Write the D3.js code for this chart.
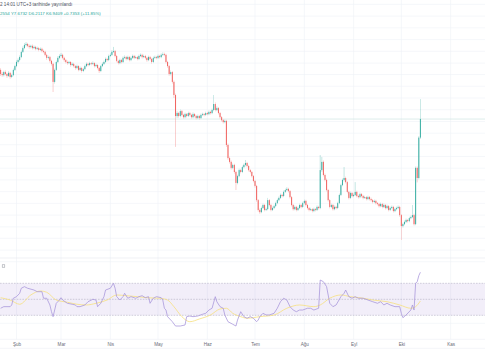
<!DOCTYPE html>
<html><head><meta charset="utf-8">
<script src="https://cdn.jsdelivr.net/npm/d3@7"></script>
<style>html,body{margin:0;padding:0;background:#fff;overflow:hidden}svg{display:block}</style>
</head><body>
<svg id="c" width="485" height="360"></svg>
<script>
// ---------- DATA ----------
const startDay = [2022, 0, 21];       // first daily candle
const firstOpen = 9.25;
const close = [
8.74,8.59,8.55,8.66,8.59,8.52,8.63,8.48,8.55,8.74,
8.88,9.03,9.10,9.21,9.40,9.54,9.65,9.69,9.62,9.58,
9.62,9.54,9.58,9.51,9.54,9.47,9.51,9.43,9.40,9.29,
9.18,9.21,9.07,8.96,8.30,8.74,9.03,9.18,9.25,9.29,
9.18,9.10,9.03,8.99,9.03,8.92,8.96,8.88,8.81,8.88,
8.74,8.81,8.70,8.77,8.88,8.96,8.92,8.99,8.96,8.99,
8.88,8.92,8.81,8.70,8.88,8.96,9.03,9.14,9.10,9.25,
9.29,9.40,9.43,9.25,9.07,8.99,9.10,9.03,9.18,9.21,
9.14,9.21,9.10,9.18,9.25,9.18,9.21,9.14,9.25,9.29,
9.21,9.25,9.18,9.10,9.21,9.14,9.03,9.18,9.21,9.18,
9.25,9.21,9.29,9.32,9.29,9.03,8.88,8.59,8.66,8.30,
7.82,7.05,7.16,7.05,7.23,7.09,7.01,7.12,7.05,7.16,
7.09,7.01,7.12,7.05,6.98,7.05,6.98,7.09,7.12,7.09,
7.16,7.12,7.20,7.16,7.27,7.49,7.27,7.34,7.16,7.01,
6.90,6.83,6.87,5.99,5.51,5.37,5.15,5.26,5.00,4.60,
4.85,5.07,5.00,5.18,5.26,5.33,5.22,5.07,5.00,4.85,
4.67,4.49,3.97,3.61,3.53,3.68,3.79,3.61,3.64,3.97,
3.79,3.61,3.68,3.75,3.86,3.97,4.05,4.16,4.12,4.27,
4.34,4.38,4.30,4.08,3.79,3.64,3.72,3.61,3.68,3.79,
3.72,3.86,3.94,3.79,3.68,3.61,3.64,3.57,3.64,3.61,
3.72,3.68,5.07,5.37,4.89,4.71,4.34,3.97,3.72,3.79,
3.64,3.72,3.68,3.86,4.16,4.52,4.71,4.78,4.63,4.27,
4.05,4.23,4.12,4.16,4.27,4.12,4.08,4.19,4.12,4.05,
4.08,4.01,4.08,4.01,3.97,3.90,3.94,3.86,3.83,3.75,
3.83,3.72,3.79,3.68,3.75,3.61,3.68,3.72,3.57,3.64,
3.68,3.72,3.42,3.02,3.09,3.17,3.24,3.20,3.31,3.35,
3.42,3.09,5.15,4.78,6.26,6.94];
const high = [
9.31,8.80,8.66,8.71,8.72,8.63,8.69,8.67,8.60,8.79,
8.93,9.09,9.16,9.27,9.45,9.60,9.72,9.76,9.73,9.67,
9.66,9.67,9.63,9.62,9.59,9.58,9.56,9.55,9.48,9.44,
9.33,9.26,9.25,9.11,9.00,8.79,9.08,9.24,9.31,9.36,
9.33,9.22,9.14,9.08,9.07,9.06,9.01,9.00,8.92,8.93,
8.91,8.86,8.85,8.82,8.93,9.01,9.00,9.04,9.03,9.05,
9.02,8.97,8.95,8.84,8.92,9.01,9.08,9.19,9.18,9.30,
9.35,9.46,9.58,9.47,9.29,9.11,9.15,9.14,9.23,9.27,
9.25,9.26,9.25,9.23,9.30,9.29,9.26,9.25,9.30,9.34,
9.33,9.30,9.29,9.22,9.26,9.25,9.18,9.23,9.26,9.25,
9.30,9.29,9.34,9.38,9.37,9.33,9.07,8.92,8.72,8.70,
8.35,7.87,7.22,7.20,7.29,7.27,7.13,7.17,7.16,7.21,
7.20,7.13,7.18,7.16,7.09,7.10,7.09,7.14,7.17,7.16,
7.21,7.20,7.25,7.24,7.32,7.82,7.55,7.40,7.38,7.20,
7.05,6.94,6.92,6.91,6.04,5.56,5.42,5.31,5.30,5.04,
4.90,5.12,5.11,5.23,5.31,5.44,5.37,5.26,5.11,5.04,
4.89,4.71,4.53,4.01,3.66,3.73,3.84,3.83,3.69,4.05,
4.01,3.83,3.73,3.80,3.91,4.02,4.10,4.21,4.20,4.32,
4.39,4.44,4.42,4.34,4.12,3.83,3.77,3.76,3.73,3.84,
3.83,3.91,3.99,3.98,3.83,3.72,3.69,3.68,3.69,3.68,
3.77,3.76,5.62,5.55,5.42,4.94,4.76,4.38,4.01,3.84,
3.83,3.77,3.76,3.91,4.21,4.57,4.76,5.18,4.83,4.67,
4.31,4.28,4.27,4.21,4.63,4.31,4.17,4.24,4.23,4.16,
4.13,4.12,4.13,4.12,4.06,4.01,3.99,3.98,3.90,3.87,
3.88,3.87,3.84,3.83,3.80,3.79,3.73,3.77,3.76,3.69,
3.73,3.77,3.76,3.46,3.14,3.22,3.29,3.28,3.36,3.40,
3.79,3.47,5.20,5.20,6.31,7.67];
const low = [
8.69,8.52,8.49,8.50,8.54,8.45,8.48,8.42,8.44,8.51,
8.70,8.84,8.98,9.05,9.17,9.36,9.50,9.60,9.57,9.52,
9.53,9.49,9.50,9.46,9.47,9.42,9.43,9.38,9.35,9.24,
9.11,9.13,9.01,8.90,7.93,8.24,8.70,8.99,9.13,9.20,
9.13,9.04,8.98,8.93,8.95,8.86,8.88,8.83,8.75,8.77,
8.69,8.70,8.64,8.66,8.73,8.84,8.87,8.88,8.91,8.92,
8.83,8.84,8.76,8.63,8.66,8.84,8.92,8.99,9.05,9.06,
9.21,9.25,9.36,9.20,9.02,8.94,8.95,8.98,8.99,9.14,
9.09,9.10,9.05,9.06,9.14,9.13,9.14,9.09,9.10,9.21,
9.16,9.17,9.13,9.04,9.06,9.09,8.97,8.99,9.14,9.13,
9.14,9.16,9.17,9.25,9.24,8.98,8.82,8.53,8.54,8.24,
7.71,5.92,6.98,6.99,7.00,7.04,6.96,6.97,7.00,7.01,
7.04,6.96,6.97,7.00,6.93,6.94,6.92,6.94,7.05,7.04,
7.05,7.08,7.08,7.11,7.12,7.23,7.22,7.23,7.11,6.96,
6.85,6.78,6.79,5.92,5.45,5.31,5.09,5.10,4.94,4.34,
4.55,4.81,4.95,4.96,5.14,5.21,5.17,5.02,4.95,4.80,
4.62,4.43,3.91,3.55,3.47,3.49,3.64,3.56,3.57,3.60,
3.74,3.56,3.57,3.64,3.71,3.82,3.93,4.01,4.07,4.08,
4.23,4.30,4.25,4.03,3.74,3.59,3.60,3.56,3.57,3.64,
3.67,3.68,3.82,3.74,3.63,3.56,3.57,3.52,3.53,3.56,
3.57,3.63,3.64,5.01,4.84,4.66,4.29,3.92,3.67,3.68,
3.59,3.60,3.63,3.64,3.82,4.12,4.48,4.66,4.58,4.22,
4.00,4.01,4.07,4.08,4.12,4.07,4.03,4.04,4.07,4.00,
4.01,3.96,3.97,3.96,3.92,3.85,3.86,3.81,3.78,3.70,
3.71,3.67,3.68,3.63,3.64,3.56,3.57,3.64,3.52,3.53,
3.60,3.64,3.36,2.51,2.97,3.05,3.13,3.15,3.16,3.27,
3.31,3.04,3.05,4.62,4.73,6.21];

// RSI (day offset from first candle, value)
const rsiDay = [1,3,7,8,9,11,13,14,16,18,22,24,27,28,30,32,33,34,35,36,38,39,40,43,46,48,49,51,54,56,59,61,62,64,66,67,70,72,73,74,76,78,79,81,83,86,88,90,92,94,95,97,99,102,103,104,105,106,109,111,114,117,118,120,122,125,128,130,132,134,136,137,139,141,142,144,147,149,150,152,154,156,158,160,162,163,164,166,168,170,173,175,177,179,181,183,185,187,189,191,194,196,198,201,202,204,206,208,210,212,215,217,218,220,222,224,226,229,232,235,238,240,242,244,246,249,252,253,254,256,259,260,261,262,263,264,265];
const rsiValue = [38.8,40.8,40.8,42.9,51.3,53.3,57.5,63.8,65.8,63.8,61.6,59.5,59.5,51.3,51.3,42.9,34.5,28.3,36.6,45,49.1,52,49.1,45,43.8,42.9,40.8,40.8,42.9,47,50,49.1,40.8,45,53.3,61.6,63.8,70,63.8,53.3,49.1,53.3,57.5,51.3,53.3,51.3,53.3,54.5,52,53.3,45,51.3,53.3,52,49.1,38.8,36.6,28.3,22,16.6,16.6,17.9,28.3,29.1,28.3,29.1,31.3,32.5,36.6,38.8,53.3,47,40.8,38.8,30.4,22,18.8,16.6,24.1,34.5,28.3,26.3,28.3,26.3,22,24.1,28.3,32.5,30.4,30.4,32.5,38.8,47,51.3,49.1,40.8,36.6,34.5,36.6,36.6,38.8,38.8,36.6,38.8,74.1,72,65.8,45,40.8,42.9,53.3,57.5,61.6,53.3,51.3,53.3,51.3,51.3,49.1,47,45,47,42.9,45,42.9,40.8,40.8,32.5,27,30.4,36.6,42.9,36.6,70,72,79.5,83.8];
// RSI moving average
const maDay = [1,7,13,20,26,30,36,43,49,55,61,68,74,80,87,93,101,106,110,115,120,126,133,139,143,147,152,156,164,173,181,189,198,202,208,215,221,229,235,244,252,259,262,265];
const maValue = [52,49.1,43.8,55.4,60.4,58.8,49.1,46.3,43.8,42.9,45,49.1,55.4,54.5,53.3,52,51.3,49.1,40.8,28.3,22,25.4,30.4,37.9,38.8,32.5,28.3,26.3,28.3,30.4,38.8,42.9,40.8,42.9,51.3,55.4,53.3,51.3,49.1,47,42.9,38.8,40.8,47.9];
const rsiLevels = [70, 50, 30];
const rsiGrid = [20, 97];
const priceGrid = [11.14,10.71,10.28,9.85,9.42,8.99,8.57,8.14,7.71,7.28,6.85,6.42,6.00,5.57,5.14,4.71,4.28,3.85,3.42,2.99,2.57,2.14];
const monthLabels = ["Şub","Mar","Nis","May","Haz","Tem","Ağu","Eyl","Eki","Kas"];
const headerLine1 = "2 14:01 UTC+3 tarihinde yayınlandı";
const headerLine2 = "2554 Y7.6732 D6.2117 K6.9409 +0.7353 (+11.85%)";

// ---------- CHART ----------
const W = 485, H = 360;
const svg = d3.select("#c");
const FONT = "'Liberation Sans', Arial, sans-serif";
const t0 = new Date(startDay[0], startDay[1], startDay[2]);
const dayDate = i => d3.timeDay.offset(t0, i);
const domStart = d3.timeHour.offset(t0, 15);
const x = d3.scaleTime().domain([domStart, d3.timeHour.offset(domStart, 305 * 24)]).range([0, W]);
const y = d3.scaleLinear().domain([0, 10]).range([308.5, 35.5]);
const yR = d3.scaleLinear().domain([0, 100]).range([339.3, 259.3]);
const mainBottom = 258, paneBottom = 339.3;

const months = d3.timeMonth.range(new Date(2022, 1, 1), new Date(2022, 10, 2));

// grid
const gridCol = "#eff1f6";
svg.append("g").selectAll("line").data(months).join("line")
  .attr("x1", d => x(d)).attr("x2", d => x(d)).attr("y1", 0).attr("y2", paneBottom)
  .attr("stroke", gridCol).attr("stroke-width", 0.6);
svg.append("g").selectAll("line").data(priceGrid).join("line")
  .attr("x1", 0).attr("x2", W).attr("y1", d => y(d)).attr("y2", d => y(d))
  .attr("stroke", gridCol).attr("stroke-width", 0.6);
svg.append("g").selectAll("line").data(rsiGrid).join("line")
  .attr("x1", 0).attr("x2", W).attr("y1", d => yR(d)).attr("y2", d => yR(d))
  .attr("stroke", gridCol).attr("stroke-width", 0.6);

// pane separators / axis lines
[[mainBottom, "#e6e8ee"], [paneBottom, "#eceef3"], [348.3, "#eceef3"]].forEach(([yy, c]) => {
  svg.append("line").attr("x1", 0).attr("x2", W).attr("y1", yy).attr("y2", yy)
    .attr("stroke", c).attr("stroke-width", 0.6);
});

// candles
const candles = close.map((c, i) => ({
  date: dayDate(i), o: i === 0 ? firstOpen : close[i - 1], c, h: high[i], l: low[i]
}));
const up = "#26a69a", down = "#ef5350";
const clip = svg.append("defs").append("clipPath").attr("id", "mainclip");
clip.append("rect").attr("x", 0).attr("y", 0).attr("width", W).attr("height", mainBottom);
const gMain = svg.append("g").attr("clip-path", "url(#mainclip)");

// last price line
gMain.append("line").attr("x1", 0).attr("x2", W)
  .attr("y1", y(close[close.length - 1])).attr("y2", y(close[close.length - 1]))
  .attr("stroke", "#cfe5e2").attr("stroke-width", 0.7);

const bw = 1.05;
gMain.append("g").selectAll("line").data(candles).join("line")
  .attr("x1", d => x(d.date)).attr("x2", d => x(d.date))
  .attr("y1", d => y(d.h)).attr("y2", d => y(d.l))
  .attr("stroke", d => d.c >= d.o ? up : down).attr("stroke-width", 0.45).attr("opacity", 0.6);
gMain.append("g").selectAll("rect").data(candles).join("rect")
  .attr("x", d => x(d.date) - bw / 2).attr("width", bw)
  .attr("y", d => y(Math.max(d.o, d.c)))
  .attr("height", d => Math.max(0.5, Math.abs(y(d.o) - y(d.c))))
  .attr("fill", d => d.c >= d.o ? up : down).attr("opacity", 0.85);

// header text
svg.append("text").attr("x", 0).attr("y", 5.8).text(headerLine1)
  .attr("font-family", FONT).attr("font-size", 4.6).attr("fill", "#50535e");
svg.append("text").attr("x", 0).attr("y", 15).text(headerLine2)
  .attr("font-family", FONT).attr("font-size", 4.4).attr("fill", "#26a69a");

// RSI pane
svg.append("rect").attr("x", 0).attr("width", W)
  .attr("y", yR(rsiLevels[0])).attr("height", yR(rsiLevels[2]) - yR(rsiLevels[0]))
  .attr("fill", "rgba(126,87,194,0.1)");
svg.append("g").selectAll("line").data(rsiLevels).join("line")
  .attr("x1", 0).attr("x2", W).attr("y1", d => yR(d)).attr("y2", d => yR(d))
  .attr("stroke", "#a7a3b8").attr("stroke-width", 0.5).attr("stroke-dasharray", "1.6,1.2");

const rsiPts = rsiDay.map((d, i) => ({ date: dayDate(d), v: rsiValue[i] }));
const maPts = maDay.map((d, i) => ({ date: dayDate(d), v: maValue[i] }));
svg.append("path").datum(maPts)
  .attr("d", d3.line().x(d => x(d.date)).y(d => yR(d.v)).curve(d3.curveMonotoneX))
  .attr("fill", "none").attr("stroke", "#f6e07e").attr("stroke-width", 0.8);
svg.append("path").datum(rsiPts).attr("d", d3.line().x(d => x(d.date)).y(d => yR(d.v)))
  .attr("fill", "none").attr("stroke", "#a593da").attr("stroke-width", 0.75);

// small pane icon
svg.append("rect").attr("x", 2.2).attr("y", 264.8).attr("width", 2.6).attr("height", 2.4)
  .attr("fill", "none").attr("stroke", "#8f929c").attr("stroke-width", 0.5);

// time axis
const ax = d3.axisBottom(x).tickValues(months).tickFormat((d, i) => monthLabels[i]).tickSize(0).tickPadding(3.2);
const gAx = svg.append("g").attr("transform", `translate(0,${paneBottom})`).call(ax);
gAx.select(".domain").remove();
gAx.selectAll("text").attr("font-family", FONT).attr("font-size", 4.6).attr("fill", "#6a6d78");
</script>
</body></html>
